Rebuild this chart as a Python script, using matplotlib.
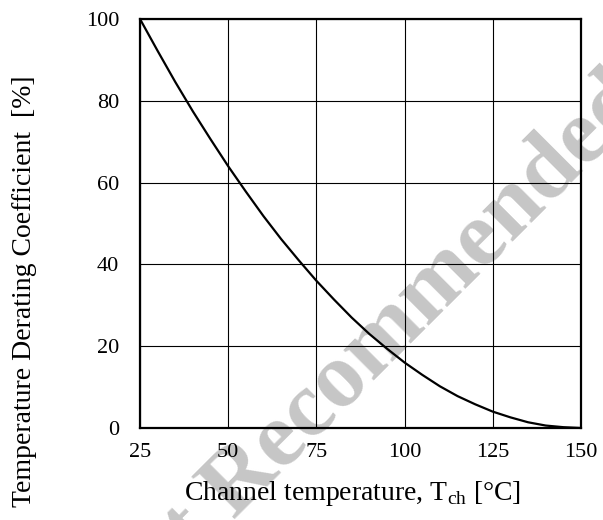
import numpy as np
import matplotlib
matplotlib.use("Agg")
import matplotlib.pyplot as plt

# ── Data ────────────────────────────────────────────────────────────────────
temp_c = [25, 30, 35, 40, 45, 50, 55, 60, 65, 70, 75, 80, 85,
          90, 95, 100, 105, 110, 115, 120, 125, 130, 135, 140, 145, 150]
derating_pct = [100, 92.2, 84.6, 77.4, 70.6, 64, 57.8, 51.8, 46.2, 41, 36,
                31.4, 27, 23, 19.4, 16, 13, 10.2, 7.8, 5.8, 4, 2.6, 1.4,
                0.6, 0.2, 0]
x_ticks = [25, 50, 75, 100, 125, 150]
y_ticks = [0, 20, 40, 60, 80, 100]

plt.rcParams["font.family"] = ["Liberation Serif", "DejaVu Serif"]
plt.rcParams["mathtext.fontset"] = "custom"
plt.rcParams["mathtext.rm"] = "Liberation Serif"

fig = plt.figure(figsize=(6.03, 5.2), dpi=100)
ax = fig.add_axes([140 / 603, 1 - 428 / 520, 441 / 603, 409 / 520])
ax.patch.set_alpha(0)

# watermark behind everything
fig.text(367 / 603, 1 - 356 / 520, "Not Recommended", rotation=45,
         rotation_mode="anchor", ha="center", va="center",
         fontsize=67, fontweight="bold", color="#c6c6c6", zorder=-1)

ax.plot(temp_c, derating_pct, color="black", lw=1.6, zorder=3)

ax.set_xlim(25, 150)
ax.set_ylim(0, 100)
ax.set_xticks(x_ticks)
ax.set_yticks(y_ticks)
ax.grid(True, color="black", lw=0.8)
ax.set_axisbelow(True)
for s in ax.spines.values():
    s.set_linewidth(1.6)
ax.tick_params(axis="both", length=0, labelsize=16)
ax.tick_params(axis="x", pad=11)
ax.tick_params(axis="y", pad=15)

fig.text(353 / 603, 1 - 493 / 520, r"Channel temperature, T$_{\mathrm{ch}}$ [°C]",
         ha="center", va="center", fontsize=20)
fig.text(25 / 603, 1 - 291 / 520, "Temperature Derating Coefficient  [%]",
         ha="center", va="center", rotation=90, fontsize=20)

fig.savefig("out.png", dpi=100)
print("Saved: out.png")
